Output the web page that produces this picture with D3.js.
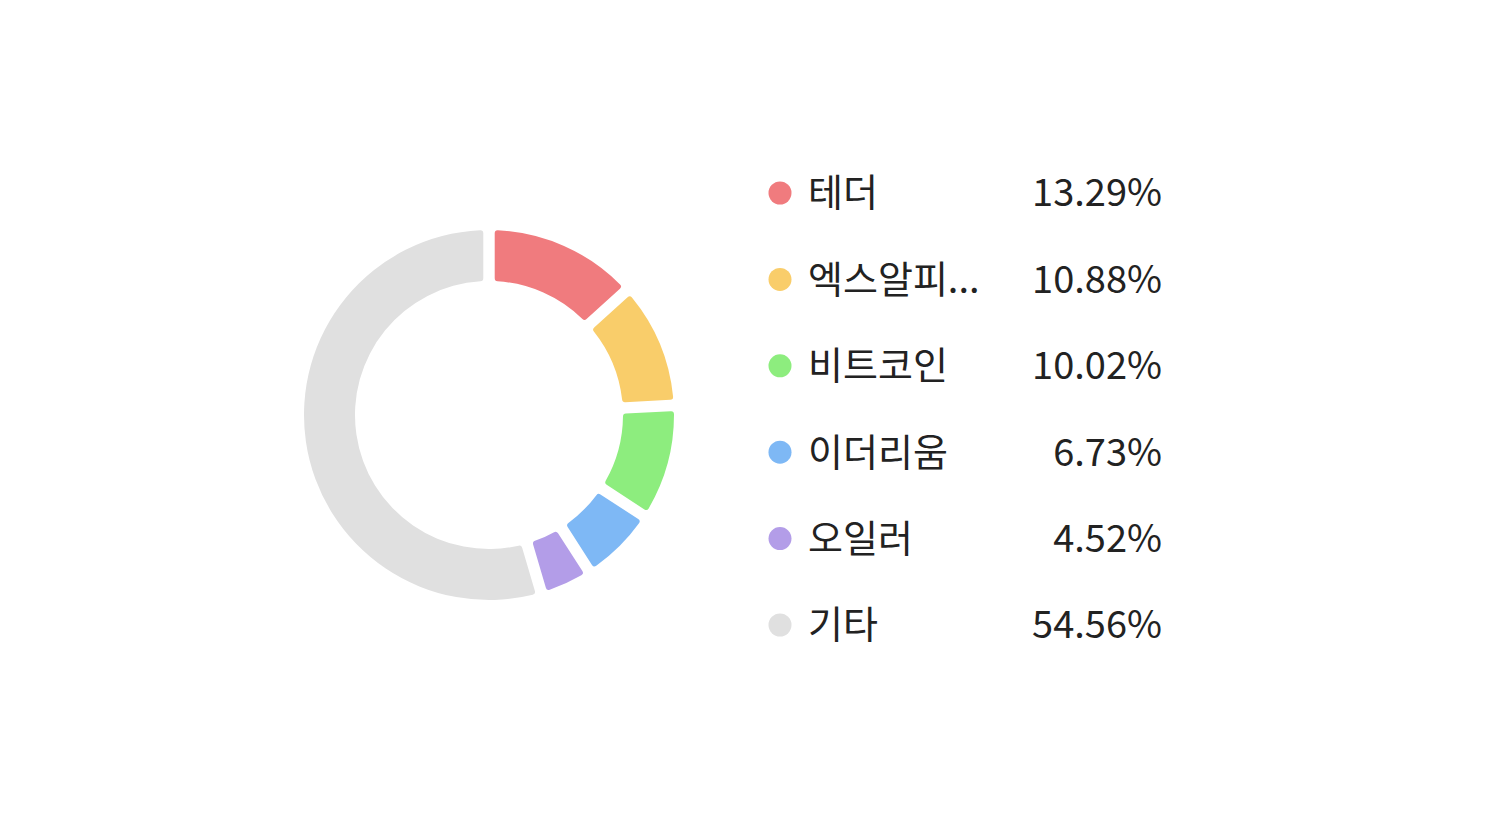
<!DOCTYPE html>
<html>
<head>
<meta charset="utf-8">
<script src="https://cdn.jsdelivr.net/npm/d3@7"></script>
<style>
  body { margin: 0; background: #fff; }
</style>
</head>
<body>
<div id="chart"></div>
<script>
// data
let labels = ["테더", "엑스알피...", "비트코인", "이더리움", "오일러", "기타"];
let values = [13.29, 10.88, 10.02, 6.73, 4.52, 54.56];
let colors = ["#f07b7e", "#f9cd6a", "#8ded7e", "#7eb8f5", "#b39de8", "#e0e0e0"];

let svg = d3.select("#chart").append("svg")
  .attr("width", 1502)
  .attr("height", 825);

// donut
let pie = d3.pie().sort(null).value((d) => d);
let arc = d3.arc()
  .innerRadius(134)
  .outerRadius(185)
  .padAngle(0.05)
  .cornerRadius(3);

let g = svg.append("g").attr("transform", "translate(489,415)");
g.selectAll("path")
  .data(pie(values))
  .enter()
  .append("path")
  .attr("d", arc)
  .style("fill", (d, i) => colors[i]);

// legend
let y = d3.scalePoint().domain(labels).range([193, 625]);
let font = "'Noto Sans CJK KR', 'Noto Sans', sans-serif";

let rows = svg.append("g").selectAll("g")
  .data(labels)
  .enter()
  .append("g")
  .attr("transform", (d) => "translate(0," + y(d) + ")");

rows.append("circle")
  .attr("cx", 780)
  .attr("r", 11.5)
  .style("fill", (d, i) => colors[i]);

rows.append("text")
  .attr("x", 808)
  .attr("dy", "0.35em")
  .style("font-family", font)
  .style("font-size", "38px")
  .style("fill", "#222")
  .text((d) => d);

rows.append("text")
  .attr("x", 1162)
  .attr("dy", "0.35em")
  .attr("text-anchor", "end")
  .style("font-family", font)
  .style("font-size", "38px")
  .style("fill", "#222")
  .text((d, i) => values[i].toFixed(2) + "%");
</script>
</body>
</html>
